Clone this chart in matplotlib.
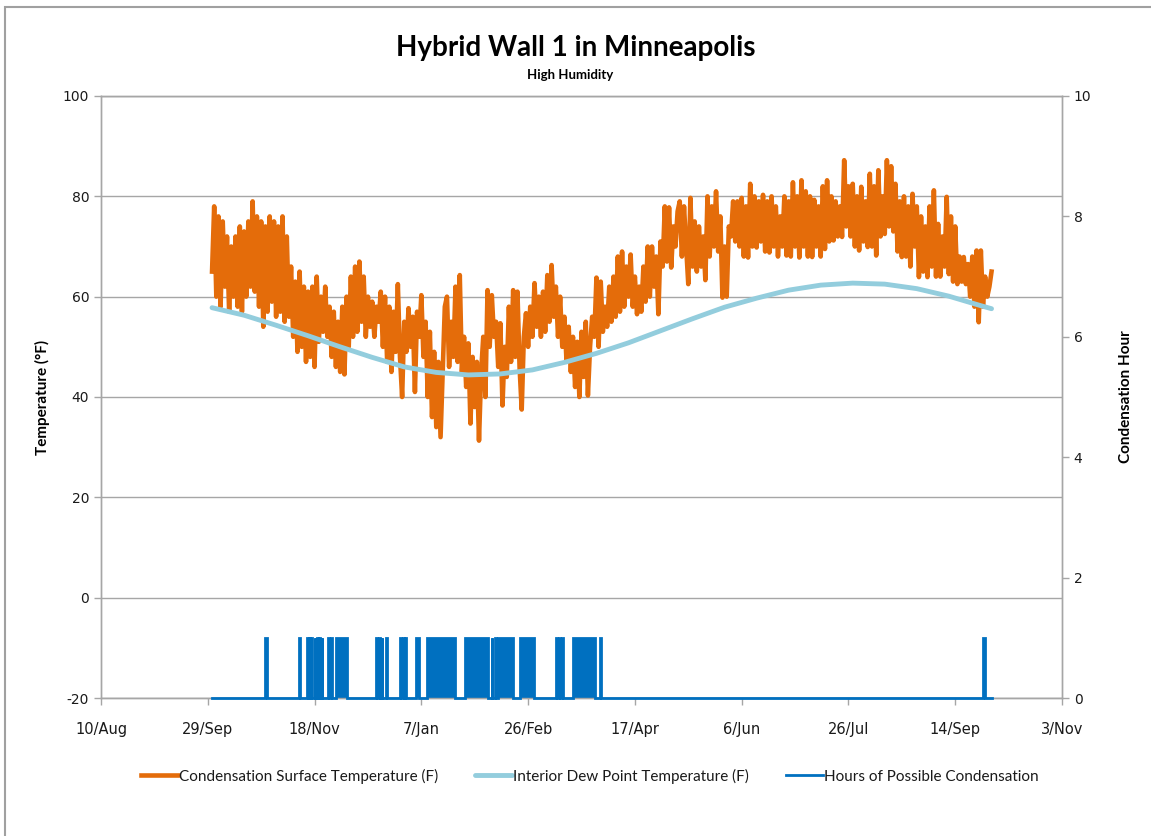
import numpy as np
import matplotlib
matplotlib.use("Agg")
import matplotlib.pyplot as plt
import matplotlib.dates as mdates
from matplotlib.patches import Rectangle

plt.rcParams["axes.unicode_minus"] = False

# one reading per day, day 0 = 1 Oct
surface_temp = [
    65, 78, 60, 76, 58, 75, 62, 72, 57, 70,
    60, 72, 58, 74, 57, 73, 60, 75, 62, 79,
    61, 76, 58, 75, 54, 74, 57, 76, 59, 75,
    56, 74, 57, 76, 55, 72, 56, 66, 52, 63,
    49, 65, 50, 62, 47, 61, 48, 62, 46, 64,
    51, 60, 53, 62, 52, 58, 48, 57, 46, 55,
    45, 58, 44.5, 60, 50, 64, 52, 66, 53, 67,
    55, 64, 52, 60, 54, 59, 52, 58, 55, 61,
    50, 60, 47, 58, 45, 57, 49, 62.5, 48, 40,
    55, 49, 57.7, 50, 56, 41, 57, 52, 60.3, 48,
    55, 40, 53, 36, 49, 34, 47, 32, 45, 58,
    60, 46, 55, 48, 62, 47, 64.3, 45, 52, 42,
    50.7, 34.7, 48, 38, 47, 31.3, 45, 52, 40, 61.3,
    50, 60.3, 52, 55, 46, 54.7, 38.3, 50, 44, 58,
    47, 61.3, 48, 61, 46, 37.5, 52, 56.7, 50, 58,
    52, 62.7, 54, 60, 52, 61, 53, 64.3, 55, 66.3,
    56, 62, 52, 60, 50, 56, 47, 54, 45, 52,
    42, 51, 40, 53, 44, 55, 40.3, 50, 56, 52,
    63.8, 50, 63, 53, 58, 54, 62, 55, 64, 56,
    68, 57, 69, 58, 66, 60, 68.4, 58, 64, 56.5,
    62, 57, 66, 59, 70, 60, 70, 62, 68, 56.5,
    71, 66, 78, 67, 77.8, 65.8, 74, 70, 77, 79,
    68, 78, 70, 62.5, 79.7, 66, 75, 65, 74, 66,
    72, 63.3, 80, 68, 78, 70, 81, 69, 76, 59.8,
    70, 60, 74, 72, 79, 71, 79, 70, 79.7, 68,
    78, 67.8, 82.5, 70, 80, 69.8, 79, 71, 80.3, 69,
    79, 68.8, 80, 70, 78, 68, 76, 70, 80, 68.2,
    79, 68, 82.8, 70, 80, 67.8, 83.2, 70, 81, 68,
    80, 67.9, 79.3, 70, 78, 68, 82, 69.5, 83.2, 71,
    80, 71.2, 79, 72, 78, 71.9, 87.2, 74, 82, 72,
    82.5, 70, 80, 69.2, 81.9, 71, 79, 69.9, 84.5, 70,
    82, 68.2, 85.2, 72, 80, 72.5, 87.2, 74, 86, 73,
    82.5, 69, 79, 67.9, 80, 68, 78, 66, 80.5, 70,
    78, 63.9, 76, 65, 74, 63.9, 78, 66, 81.2, 64,
    74.5, 64, 72, 66, 79.9, 64.5, 76, 63, 74, 62.5,
    68, 63, 67.9, 62.5, 66.5, 60, 68, 58, 69.2, 54.9,
    69.2, 58, 64, 60, 62, 65,
]

dew_day = [0, 15, 30, 45, 60, 75, 90, 105, 120, 135, 150, 165, 180,
           195, 210, 225, 240, 255, 270, 285, 300, 315, 330, 345, 360, 365]
dew_temp = [57.8, 56.3, 54.3, 52.2, 50.0, 47.9, 46.0, 44.9, 44.4, 44.6,
            45.4, 46.9, 48.7, 50.8, 53.2, 55.6, 57.9, 59.7, 61.3, 62.3,
            62.7, 62.5, 61.6, 60.1, 58.2, 57.6]

# periods flagged as possible condensation (days from 1 Oct)
cond_start = [25.0, 40.6, 44.5, 45.4, 46.5, 48.1, 49.1, 50.1, 51.3, 54.5,
              55.6, 58.0, 76.8, 78.3, 79.4, 81.3, 88.0, 89.6, 90.4, 95.5,
              100.5, 118.4, 130.9, 132.5, 134.0, 144.2, 161.0, 162.6, 163.9,
              168.9, 181.5, 360.8]
cond_end = [25.6, 41.1, 44.8, 45.7, 46.9, 48.4, 49.5, 50.4, 51.7, 54.9,
            56.0, 63.0, 77.2, 78.7, 79.8, 81.8, 88.4, 90.0, 90.8, 96.8,
            113.8, 129.4, 131.3, 133.0, 141.0, 150.9, 161.4, 163.0, 164.5,
            179.3, 182.0, 362.0]
record_days = 365

tick_dates = ["2009-08-10", "2009-09-29", "2009-11-18", "2010-01-07",
              "2010-02-26", "2010-04-17", "2010-06-06", "2010-07-26",
              "2010-09-14", "2010-11-03"]
tick_labels = ["10/Aug", "29/Sep", "18/Nov", "7/Jan", "26/Feb", "17/Apr",
               "6/Jun", "26/Jul", "14/Sep", "3/Nov"]

ORANGE = "#E46C0A"
DEW = "#93CDDD"
BLUE = "#0070C0"
GRID = "#A6A6A6"
TXT = "#1a1a1a"

t0 = mdates.date2num(np.datetime64("2009-10-01"))
ticks = mdates.date2num(np.array(tick_dates, dtype="datetime64[D]"))

fig = plt.figure(figsize=(11.51, 8.36), dpi=100)
fig.patches.append(Rectangle((5 / 1151, -0.05), 1.2, 1 - 7 / 836 + 0.05,
                             transform=fig.transFigure, fill=False,
                             edgecolor="#A0A0A0", linewidth=1.5))

ax = fig.add_axes([0.08775, 0.16507, 0.83493, 0.72010])
ax2 = ax.twinx()

# temperatures on the left axis
sx = t0 + np.arange(len(surface_temp))
l1, = ax.plot(sx, surface_temp, color=ORANGE, lw=3.3, solid_joinstyle="round",
              label="Condensation Surface Temperature (F)")
l2, = ax.plot(t0 + np.array(dew_day), dew_temp, color=DEW, lw=3.5,
              solid_capstyle="round", label="Interior Dew Point Temperature (F)")

# condensation flags as 0/1 pulses on the right axis
cx, cy = [0.0], [0.0]
for a, b in zip(cond_start, cond_end):
    cx += [a, a, b, b]
    cy += [0, 1, 1, 0]
cx.append(record_days)
cy.append(0)
cx = t0 + np.array(cx)
ax2.fill_between(cx, 0, cy, color=BLUE, lw=0)
l3, = ax2.plot(cx, cy, color=BLUE, lw=2.0, solid_joinstyle="miter",
               clip_on=False, zorder=3, label="Hours of Possible Condensation")

ax.set_xlim(ticks[0], ticks[-1])
ax.set_ylim(-20, 100)
ax2.set_ylim(0, 10)
ax.set_xticks(ticks, tick_labels)
ax.set_yticks(range(-20, 101, 20))
ax2.set_yticks(range(0, 11, 2))

ax.grid(axis="y", color=GRID, lw=1.0)
ax.set_axisbelow(True)
for a in (ax, ax2):
    for s in a.spines.values():
        s.set_color(GRID)
        s.set_linewidth(1.0)
    a.tick_params(colors=GRID, labelcolor=TXT, labelsize=10, length=5, width=1)
ax.tick_params(axis="x", labelsize=10.5, pad=12)

ax.set_ylabel("Temperature (°F)", fontsize=11, fontweight="bold",
              family=["Lato", "DejaVu Sans"], color="black", labelpad=9)
ax2.set_ylabel("Condensation Hour", fontsize=11, fontweight="bold",
               family=["Lato", "DejaVu Sans"], color="black", labelpad=20)

fig.text(0.5, 1 - 48 / 836, "Hybrid Wall 1 in Minneapolis", ha="center",
         va="center", fontsize=20, fontweight="bold", family="Lato")
fig.text(0.495, 1 - 75 / 836, "High Humidity", ha="center", va="center",
         fontsize=9.5, fontweight="bold", family="Lato")

fig.legend(handles=[l1, l2, l3], loc="center", ncol=3,
           bbox_to_anchor=(590 / 1151, 1 - 776 / 836), frameon=False,
           prop={"family": "Lato", "size": 11}, handlelength=2.4,
           handletextpad=0.1, columnspacing=2.4, labelcolor=TXT)

fig.savefig("out.png", dpi=100)
